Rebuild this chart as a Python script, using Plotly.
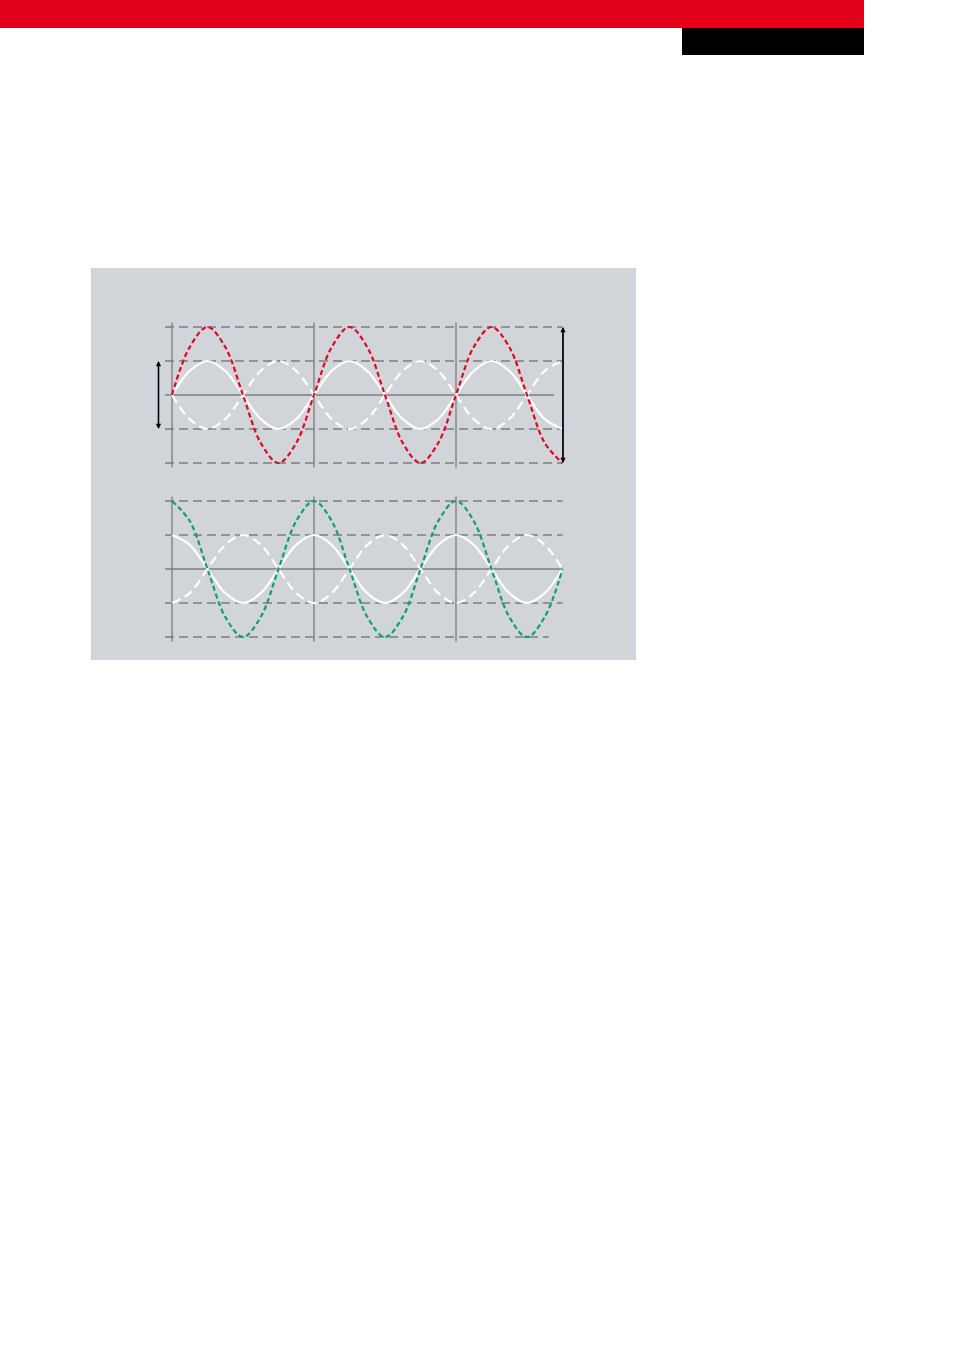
import plotly.graph_objects as go

# phase in degrees, sampled every eighth of a period (2.75 periods)
phase = [0, 45, 90, 135, 180, 225, 270, 315, 360, 405, 450, 495, 540,
         585, 630, 675, 720, 765, 810, 855, 900, 945, 990]

# top: two waves and the red resulting wave
top_white = [0, 0.71, 1, 0.71, 0, -0.71, -1, -0.71, 0, 0.71, 1, 0.71, 0,
             -0.71, -1, -0.71, 0, 0.71, 1, 0.71, 0, -0.71, -1]
top_white_dash = [0, -0.71, -1, -0.71, 0, 0.71, 1, 0.71, 0, -0.71, -1, -0.71, 0,
                  0.71, 1, 0.71, 0, -0.71, -1, -0.71, 0, 0.71, 1]
top_red = [0, 1.41, 2, 1.41, 0, -1.41, -2, -1.41, 0, 1.41, 2, 1.41, 0,
           -1.41, -2, -1.41, 0, 1.41, 2, 1.41, 0, -1.41, -2]

# bottom: two waves and the green resulting wave
bot_white = [1, 0.71, 0, -0.71, -1, -0.71, 0, 0.71, 1, 0.71, 0, -0.71, -1,
             -0.71, 0, 0.71, 1, 0.71, 0, -0.71, -1, -0.71, 0]
bot_white_dash = [-1, -0.71, 0, 0.71, 1, 0.71, 0, -0.71, -1, -0.71, 0, 0.71, 1,
                  0.71, 0, -0.71, -1, -0.71, 0, 0.71, 1, 0.71, 0]
bot_green = [2, 1.41, 0, -1.41, -2, -1.41, 0, 1.41, 2, 1.41, 0, -1.41, -2,
             -1.41, 0, 1.41, 2, 1.41, 0, -1.41, -2, -1.41, 0]

grid_x = [0, 360, 720]
levels = [-2, -1, 1, 2]

W, H = 954, 1350
RED = "#E3061F"
GREEN = "#109E73"
GRAY = "#7a7c80"
PANEL = "#D1D5D9"

x0_px, deg_px = 172, 142 / 360.0


def px_x(v):
    return (v - x0_px) / deg_px


xr = [px_x(150), px_x(580)]

fig = go.Figure()


def add_waves(ax, ys, styles):
    for y, (col, dash) in zip(ys, styles):
        fig.add_trace(go.Scatter(x=phase, y=y, mode="lines", xaxis="x" + ax, yaxis="y" + ax,
                                 line=dict(color=col, width=2.2, dash=dash, shape="spline"),
                                 showlegend=False, hoverinfo="skip"))


add_waves("", [top_white, top_white_dash, top_red],
          [("white", "solid"), ("white", "9px,5px"), (RED, "5px,3px")])
add_waves("2", [bot_white, bot_white_dash, bot_green],
          [("white", "solid"), ("white", "9px,5px"), (GREEN, "5px,3px")])

shapes = [
    dict(type="rect", xref="paper", yref="paper", x0=0, x1=864 / W, y0=1, y1=1 - 28 / H,
         fillcolor="#E2001A", line_width=0),
    dict(type="rect", xref="paper", yref="paper", x0=682 / W, x1=864 / W, y0=1 - 28 / H, y1=1 - 55 / H,
         fillcolor="black", line_width=0),
    dict(type="rect", xref="paper", yref="paper", x0=91 / W, x1=636 / W, y0=1 - 268 / H, y1=1 - 660 / H,
         fillcolor=PANEL, line_width=0, layer="below"),
]

for ax, center_end, low_end in [("", 968, 990), ("2", 990, 955)]:
    xref, yref = "x" + ax, "y" + ax
    for g in grid_x:
        shapes.append(dict(type="line", xref=xref, yref=yref, x0=g, x1=g, y0=-2.13, y1=2.13,
                           line=dict(color=GRAY, width=1.3), layer="below"))
    shapes.append(dict(type="line", xref=xref, yref=yref, x0=px_x(165), x1=center_end, y0=0, y1=0,
                       line=dict(color=GRAY, width=1.3), layer="below"))
    for lv in levels:
        x_end = low_end if lv == -2 else 990
        shapes.append(dict(type="line", xref=xref, yref=yref, x0=px_x(165), x1=x_end, y0=lv, y1=lv,
                           line=dict(color=GRAY, width=1.3, dash="9px,5px"), layer="below"))

annotations = []
for (xv, y_lo, y_hi) in [(px_x(158.5), -1, 1), (px_x(563), -2, 2)]:
    for a, b in [(y_lo, y_hi), (y_hi, y_lo)]:
        annotations.append(dict(x=xv, y=b, ax=xv, ay=a, xref="x", yref="y", axref="x", ayref="y",
                                text="", showarrow=True, arrowhead=2, arrowsize=0.8,
                                arrowwidth=1.3, arrowcolor="black"))

axis = dict(range=xr, visible=False, fixedrange=True)
fig.update_layout(
    width=W, height=H,
    margin=dict(l=0, r=0, t=0, b=0),
    paper_bgcolor="white", plot_bgcolor="rgba(0,0,0,0)",
    xaxis=dict(axis, domain=[150 / W, 580 / W]),
    yaxis=dict(range=[-2.5, 2.5], visible=False, domain=[1 - 480 / H, 1 - 310 / H], fixedrange=True),
    xaxis2=dict(axis, domain=[150 / W, 580 / W], anchor="y2"),
    yaxis2=dict(range=[-2.5, 2.5], visible=False, domain=[1 - 654 / H, 1 - 484 / H],
                anchor="x2", fixedrange=True),
    shapes=shapes,
    annotations=annotations,
)

fig.write_html("out.html", config={"displayModeBar": False},
               post_script="document.body.style.margin='0';")
